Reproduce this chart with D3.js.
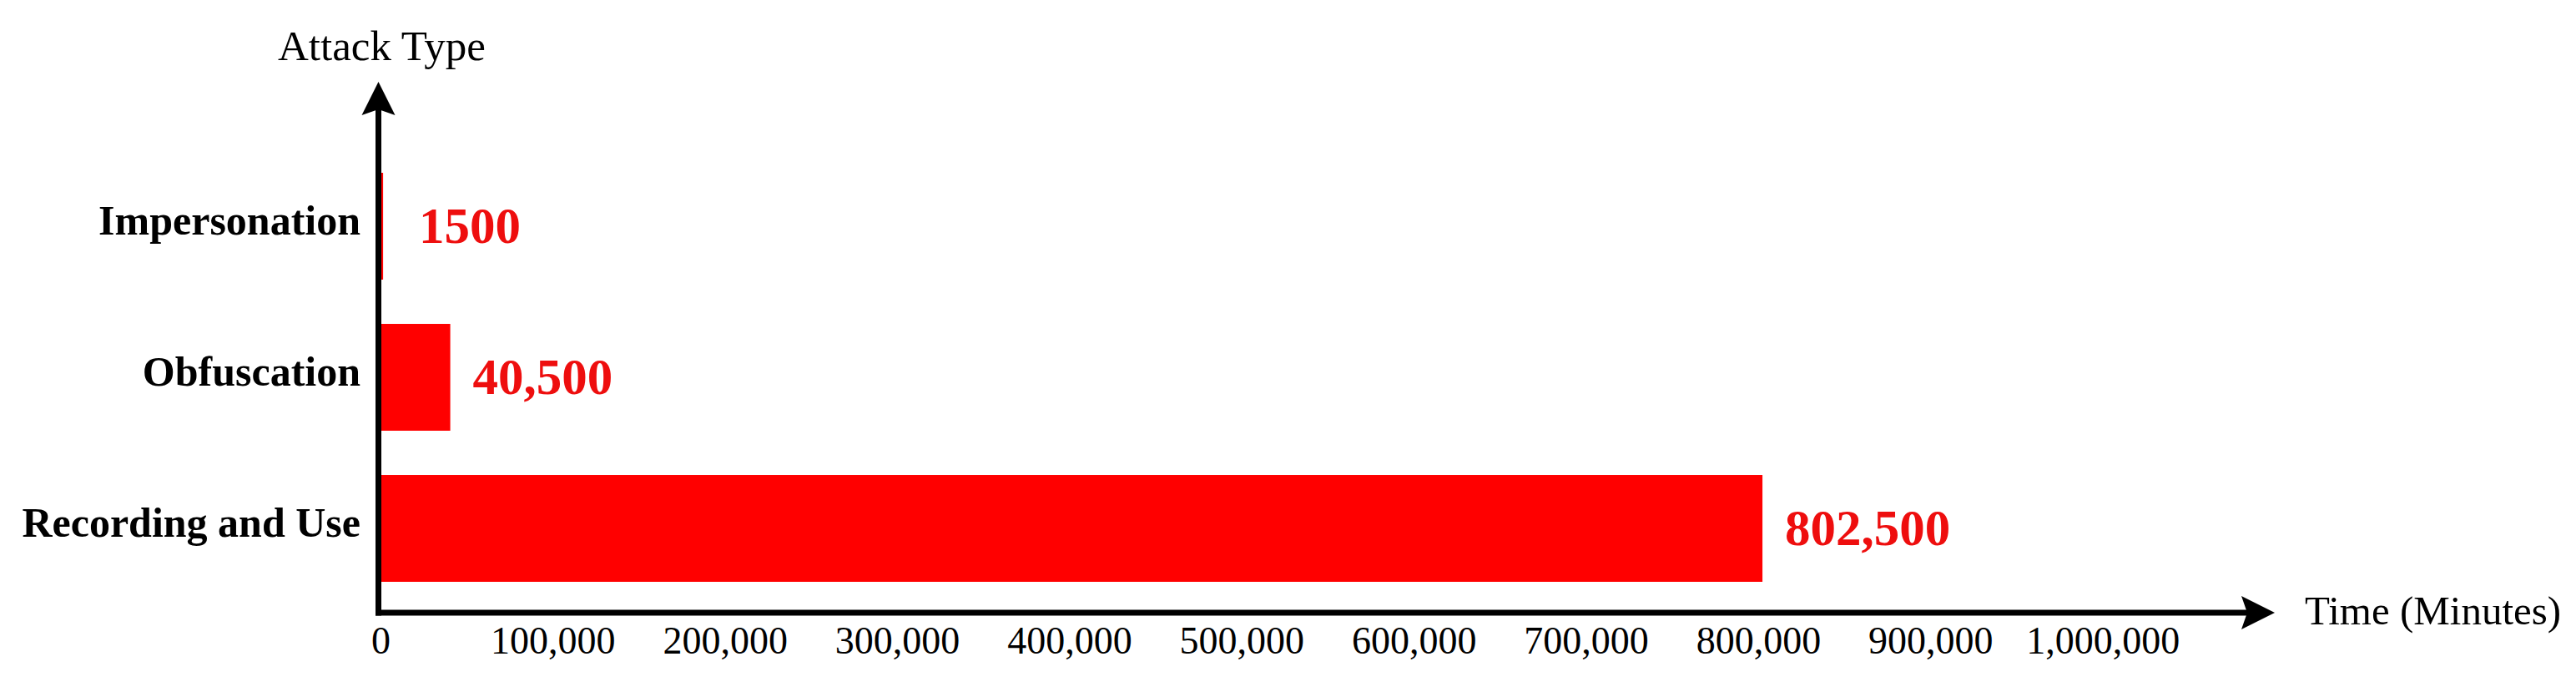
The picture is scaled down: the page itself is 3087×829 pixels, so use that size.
<!DOCTYPE html>
<html><head><meta charset="utf-8">
<script src="https://cdn.jsdelivr.net/npm/d3@7"></script>
<style>html,body{margin:0;padding:0;background:#fff;} svg{display:block}</style>
</head><body>
<svg id="chart" width="3087" height="829"></svg>
<script>
const categories = ["Impersonation", "Obfuscation", "Recording and Use"];
const values = [1500, 40500, 802500];
const valueLabels = ["1500", "40,500", "802,500"];
const tickValues = [0, 100000, 200000, 300000, 400000, 500000, 600000, 700000, 800000, 900000, 1000000];
const xAxisTitle = "Time (Minutes)";
const yAxisTitle = "Attack Type";
const axisMax = 1100000;

const svg = d3.select("#chart");
const serif = "'Liberation Serif', 'Times New Roman', serif";
const barColor = "#ff0000";
const labelColor = "#ee0e0e";

const x = d3.scaleLinear().domain([0, axisMax]).range([456, 2726]);
const y = d3.scaleBand().domain(categories).range([207, 697]).paddingInner(0.293).paddingOuter(0);

const axisY = 734;
const axisX = x(0) - 2.5;

// bars
svg.append("g").selectAll("rect")
  .data(categories)
  .join("rect")
  .attr("x", x(0))
  .attr("y", d => y(d))
  .attr("width", (d, i) => x(values[i]) - x(0))
  .attr("height", y.bandwidth())
  .attr("fill", barColor);

// value labels
svg.append("g").selectAll("text")
  .data(categories)
  .join("text")
  .attr("x", (d, i) => Math.max(x(values[i]), x(0) + 19) + 27)
  .attr("y", d => y(d) + y.bandwidth() / 2 + 20)
  .attr("font-family", serif)
  .attr("font-weight", "bold")
  .attr("font-size", 61)
  .attr("fill", labelColor)
  .text((d, i) => valueLabels[i]);

// category labels
svg.append("g").selectAll("text")
  .data(categories)
  .join("text")
  .attr("x", 432)
  .attr("y", d => y(d) + y.bandwidth() / 2 + 10)
  .attr("text-anchor", "end")
  .attr("font-family", serif)
  .attr("font-weight", "bold")
  .attr("font-size", 50)
  .attr("fill", "#000")
  .text(d => d);

// x tick labels
const xAxis = d3.axisBottom(x)
  .tickValues(tickValues)
  .tickSize(0)
  .tickPadding(16)
  .tickFormat(d3.format(","));
const gx = svg.append("g").attr("transform", `translate(0,${axisY})`).call(xAxis);
gx.select(".domain").remove();
gx.selectAll("text")
  .attr("font-family", serif)
  .attr("font-size", 46)
  .attr("fill", "#000");

// axes lines with arrows
const tipX = x(axisMax);
const tipY = 98;
svg.append("line")
  .attr("x1", axisX).attr("x2", axisX)
  .attr("y1", axisY + 3.5).attr("y2", tipY + 30)
  .attr("stroke", "#000").attr("stroke-width", 7);
svg.append("line")
  .attr("x1", axisX - 3.5).attr("x2", tipX - 30)
  .attr("y1", axisY).attr("y2", axisY)
  .attr("stroke", "#000").attr("stroke-width", 7);
svg.append("path")
  .attr("d", `M${axisX},${tipY} L${axisX + 20},${tipY + 40} L${axisX},${tipY + 33} L${axisX - 20},${tipY + 40} Z`)
  .attr("fill", "#000");
svg.append("path")
  .attr("d", `M${tipX},${axisY} L${tipX - 40},${axisY - 20} L${tipX - 33},${axisY} L${tipX - 40},${axisY + 20} Z`)
  .attr("fill", "#000");

// axis titles
svg.append("text")
  .attr("x", axisX + 4)
  .attr("y", 72)
  .attr("text-anchor", "middle")
  .attr("font-family", serif)
  .attr("font-size", 51)
  .attr("fill", "#000")
  .text(yAxisTitle);
svg.append("text")
  .attr("x", tipX + 36)
  .attr("y", 748)
  .attr("font-family", serif)
  .attr("font-size", 49)
  .attr("fill", "#000")
  .text(xAxisTitle);
</script>
</body></html>
